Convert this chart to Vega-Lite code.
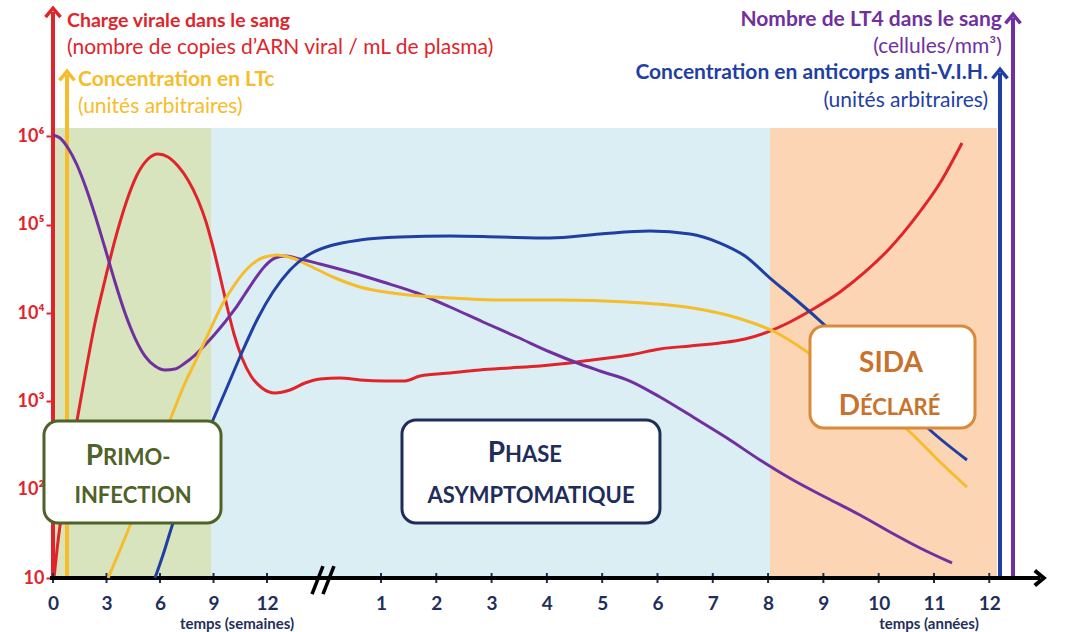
{
  "$schema": "https://vega.github.io/schema/vega-lite/v6.json",
  "width": 960,
  "height": 570,
  "autosize": {"type": "none"},
  "padding": {"left": 53, "top": 8, "right": 70, "bottom": 54},
  "background": "white",
  "config": {"font": "Lato", "view": {"stroke": null}, "axis": {"grid": false}},
  "datasets": {
    "viral": [
      {"t":0.018,"v":10},{"t":0.072,"v":20.7},{"t":0.145,"v":47.8},{"t":0.235,"v":113},{"t":0.344,"v":297},{"t":0.452,"v":702},{"t":0.597,"v":2270},{"t":0.759,"v":7720},{"t":0.940,"v":23700},{"t":1.121,"v":67300},{"t":1.320,"v":176600},{"t":1.519,"v":366000},{"t":1.718,"v":556000},{"t":1.899,"v":634000},{"t":2.080,"v":586000},{"t":2.260,"v":463000},{"t":2.441,"v":322000},{"t":2.622,"v":191000},{"t":2.767,"v":108000},{"t":2.893,"v":56100},{"t":3.020,"v":26300},{"t":3.146,"v":12000},{"t":3.273,"v":5800},{"t":3.418,"v":3100},{"t":3.580,"v":1940},{"t":3.779,"v":1420},{"t":4.014,"v":1245},{"t":4.286,"v":1346},{"t":4.557,"v":1615},{"t":4.828,"v":1794},{"t":5.190,"v":1841},{"t":5.552,"v":1747},{"t":6.004,"v":1702},{"t":6.365,"v":1702},{"t":6.637,"v":1940},{"t":7.179,"v":2099},{"t":7.722,"v":2269},{"t":8.264,"v":2390},{"t":8.807,"v":2518},{"t":9.349,"v":2722},{"t":9.892,"v":3020},{"t":10.434,"v":3352},{"t":10.976,"v":3920},{"t":11.519,"v":4240},{"t":12.061,"v":4585},{"t":12.514,"v":5090},{"t":12.875,"v":5950},{"t":13.327,"v":7930},{"t":13.779,"v":11400},{"t":14.231,"v":17300},{"t":14.684,"v":29200},{"t":15.136,"v":54600},{"t":15.588,"v":119000},{"t":16.040,"v":297000},{"t":16.438,"v":844000}
    ],
    "curves": [
      {"series":"LT4","t":0,"v":1049.6},{"series":"LT4","t":0.127,"v":1042.8},{"series":"LT4","t":0.271,"v":1020.3},{"series":"LT4","t":0.434,"v":982.0},{"series":"LT4","t":0.597,"v":930.1},{"series":"LT4","t":0.759,"v":869.3},{"series":"LT4","t":0.940,"v":794.9},{"series":"LT4","t":1.121,"v":718.3},{"series":"LT4","t":1.302,"v":648.5},{"series":"LT4","t":1.483,"v":592.1},{"series":"LT4","t":1.664,"v":551.5},{"series":"LT4","t":1.844,"v":529.0},{"series":"LT4","t":2.025,"v":520.0},{"series":"LT4","t":2.206,"v":522.3},{"series":"LT4","t":2.387,"v":535.8},{"series":"LT4","t":2.568,"v":553.8},{"series":"LT4","t":2.749,"v":576.3},{"series":"LT4","t":2.929,"v":601.1},{"series":"LT4","t":3.110,"v":628.2},{"series":"LT4","t":3.291,"v":657.5},{"series":"LT4","t":3.472,"v":691.3},{"series":"LT4","t":3.653,"v":725.1},{"series":"LT4","t":3.834,"v":754.4},{"series":"LT4","t":4.014,"v":772.4},{"series":"LT4","t":4.195,"v":776.9},{"series":"LT4","t":4.467,"v":770.1},{"series":"LT4","t":4.828,"v":758.9},{"series":"LT4","t":5.371,"v":740.8},{"series":"LT4","t":5.967,"v":718.3},{"series":"LT4","t":6.582,"v":693.5},{"series":"LT4","t":7.179,"v":662.0},{"series":"LT4","t":7.776,"v":628.2},{"series":"LT4","t":8.391,"v":594.4},{"series":"LT4","t":8.987,"v":560.6},{"series":"LT4","t":9.530,"v":533.5},{"series":"LT4","t":9.892,"v":517.7},{"series":"LT4","t":10.434,"v":495.2},{"series":"LT4","t":10.976,"v":459.2},{"series":"LT4","t":11.573,"v":414.1},{"series":"LT4","t":12.188,"v":366.8},{"series":"LT4","t":12.785,"v":317.2},{"series":"LT4","t":13.382,"v":272.1},{"series":"LT4","t":13.996,"v":231.5},{"series":"LT4","t":14.593,"v":193.2},{"series":"LT4","t":15.136,"v":154.9},{"series":"LT4","t":15.678,"v":118.9},{"series":"LT4","t":16.257,"v":85.1},
      {"series":"LTc","t":0.995,"v":51.3},{"series":"LTc","t":1.212,"v":114.4},{"series":"LTc","t":1.447,"v":186.5},{"series":"LTc","t":1.700,"v":265.4},{"series":"LTc","t":1.935,"v":346.5},{"series":"LTc","t":2.152,"v":418.6},{"series":"LTc","t":2.387,"v":490.7},{"series":"LTc","t":2.604,"v":547.0},{"series":"LTc","t":2.839,"v":610.1},{"series":"LTc","t":3.056,"v":666.5},{"series":"LTc","t":3.291,"v":713.8},{"series":"LTc","t":3.526,"v":749.9},{"series":"LTc","t":3.779,"v":772.4},{"series":"LTc","t":4.051,"v":779.2},{"series":"LTc","t":4.322,"v":772.4},{"series":"LTc","t":4.647,"v":754.4},{"series":"LTc","t":5.063,"v":729.6},{"series":"LTc","t":5.552,"v":707.0},{"series":"LTc","t":6.275,"v":691.3},{"series":"LTc","t":7.179,"v":682.3},{"series":"LTc","t":8.083,"v":677.7},{"series":"LTc","t":9.168,"v":677.7},{"series":"LTc","t":10.380,"v":673.2},{"series":"LTc","t":11.573,"v":659.7},{"series":"LTc","t":12.188,"v":643.9},{"series":"LTc","t":12.658,"v":625.9},{"series":"LTc","t":13.092,"v":603.4},{"series":"LTc","t":13.508,"v":571.8},{"series":"LTc","t":13.960,"v":531.3},{"series":"LTc","t":14.774,"v":452.4},{"series":"LTc","t":15.497,"v":380.3},{"series":"LTc","t":16.040,"v":312.7},{"series":"LTc","t":16.528,"v":256.3},
      {"series":"Ac","t":1.844,"v":51.3},{"series":"Ac","t":1.989,"v":103.1},{"series":"Ac","t":2.170,"v":175.2},{"series":"Ac","t":2.387,"v":249.6},{"series":"Ac","t":2.622,"v":328.5},{"series":"Ac","t":2.893,"v":407.3},{"series":"Ac","t":3.165,"v":486.2},{"series":"Ac","t":3.436,"v":565.1},{"series":"Ac","t":3.707,"v":637.2},{"series":"Ac","t":3.978,"v":695.8},{"series":"Ac","t":4.286,"v":745.4},{"series":"Ac","t":4.647,"v":781.4},{"series":"Ac","t":5.063,"v":801.7},{"series":"Ac","t":5.552,"v":813.0},{"series":"Ac","t":6.275,"v":819.7},{"series":"Ac","t":7.179,"v":822.0},{"series":"Ac","t":8.083,"v":819.7},{"series":"Ac","t":8.987,"v":817.5},{"series":"Ac","t":9.892,"v":826.5},{"series":"Ac","t":10.796,"v":833.2},{"series":"Ac","t":11.519,"v":826.5},{"series":"Ac","t":12.061,"v":806.2},{"series":"Ac","t":12.514,"v":776.9},{"series":"Ac","t":12.966,"v":727.3},{"series":"Ac","t":13.418,"v":680.0},{"series":"Ac","t":13.834,"v":634.9},{"series":"Ac","t":14.322,"v":578.6},{"series":"Ac","t":14.955,"v":502.0},{"series":"Ac","t":15.859,"v":384.8},{"series":"Ac","t":16.528,"v":317.2}
    ],
    "bands": [
      {"phase":"primo","t":0,"t2":2.857,"v":51.3,"v2":1065.4},
      {"phase":"phase","t":2.857,"t2":12.966,"v":51.3,"v2":1065.4},
      {"phase":"sida","t":12.966,"t2":17.071,"v":51.3,"v2":1065.4}
    ],
    "boxes": [
      {"phase":"primo","t":-0.163,"t2":3.038,"v":405.1,"v2":175.2},
      {"phase":"phase","t":6.311,"t2":10.976,"v":407.3,"v2":175.2},
      {"phase":"sida","t":13.689,"t2":16.673,"v":619.2,"v2":389.3}
    ],
    "boxText": [
      {"phase":"primo","txt":"P","part":"initial","t":0.904,"v":305.9},
      {"phase":"primo","txt":"RIMO-","part":"rest","t":0.904,"v":305.9},
      {"phase":"primo","txt":"INFECTION","part":"line","t":1.447,"v":220.3},
      {"phase":"phase","txt":"P","part":"initial","t":8.174,"v":312.4},
      {"phase":"phase","txt":"HASE","part":"rest","t":8.174,"v":312.4},
      {"phase":"phase","txt":"ASYMPTOMATIQUE","part":"line","t":8.644,"v":220.3},
      {"phase":"sida","txt":"SIDA","part":"big","t":15.154,"v":515.5},
      {"phase":"sida","txt":"D","part":"initial","t":14.593,"v":418.6},
      {"phase":"sida","txt":"ÉCLARÉ","part":"rest","t":14.593,"v":418.6}
    ],
    "headers": [
      {"txt":"Charge virale dans le sang","series":"charge","kind":"title","side":"left","t":0.253,"v":1306.5},
      {"txt":"(nombre de copies d’ARN viral / mL de plasma)","series":"charge","kind":"unit","side":"left","t":0.253,"v":1245.6},
      {"txt":"Concentration en LTc","series":"LTc","kind":"title","side":"left","t":0.452,"v":1173.5},
      {"txt":"(unités arbitraires)","series":"LTc","kind":"unit","side":"left","t":0.452,"v":1112.7},
      {"txt":"Nombre de LT4 dans le sang","series":"LT4","kind":"title","side":"right","t":17.16,"v":1308.7},
      {"txt":"(cellules/mm³)","series":"LT4","kind":"unit","side":"right","t":17.16,"v":1247.9},
      {"txt":"Concentration en anticorps anti-V.I.H.","series":"Ac","kind":"title","side":"right","t":16.908,"v":1189.3},
      {"txt":"(unités arbitraires)","series":"Ac","kind":"unit","side":"right","t":16.908,"v":1126.2}
    ],
    "axisTitles": [
      {"txt":"temps (semaines)","t":3.327,"v":-52.4},
      {"txt":"temps (années)","t":15.84,"v":-52.4}
    ],
    "arrows": [
      {"series":"charge","t":0,"v":51.3,"v2":1326.8},
      {"series":"LTc","t":0.253,"v":51.3,"v2":1184.8},
      {"series":"Ac","t":17.125,"v":51.3,"v2":1189.3},
      {"series":"LT4","t":17.36,"v":51.3,"v2":1313.2}
    ],
    "xaxis": [{"t":-0.054,"t2":17.848}],
    "xarrow": [{"t":17.848}],
    "breaks": [
      {"t":4.684,"t2":4.882,"v":15.2,"v2":78.3},
      {"t":4.882,"t2":5.081,"v":15.2,"v2":78.3}
    ],
    "xticks": [
      {"t":0},{"t":0.9675},{"t":1.935},{"t":2.9025},{"t":3.87},
      {"t":5.931},{"t":6.931},{"t":7.931},{"t":8.931},{"t":9.931},{"t":10.931},{"t":11.931},{"t":12.931},{"t":13.931},{"t":14.931},{"t":15.931},{"t":16.931}
    ]
  },
  "encoding": {
    "x": {
      "field": "t", "type": "quantitative",
      "scale": {"domain": [0, 17.36], "nice": false, "zero": false},
      "axis": {
        "values": [0, 0.9675, 1.935, 2.9025, 3.87, 5.931, 6.931, 7.931, 8.931, 9.931, 10.931, 11.931, 12.931, 13.931, 14.931, 15.931, 16.931],
        "labelExpr": "datum.value < 5 ? format(round(datum.value / 0.3225), 'd') : format(round(datum.value - 4.931), 'd')",
        "domain": false, "ticks": false, "grid": false, "title": null,
        "labelPadding": 16, "labelFontSize": 19, "labelFontWeight": "bold", "labelColor": "#1f2f5a",
        "labelFlush": false, "labelOverlap": false
      }
    }
  },
  "layer": [
    {
      "data": {"name": "bands"},
      "mark": {"type": "rect"},
      "encoding": {
        "x2": {"field": "t2"},
        "y": {"field": "v", "type": "quantitative", "scale": {"domain": [51.3, 1335.8], "nice": false, "zero": false}, "axis": null},
        "y2": {"field": "v2"},
        "fill": {"field": "phase", "type": "nominal", "scale": {"domain": ["primo", "phase", "sida"], "range": ["#d7e4bd", "#dbeef4", "#fcd5b5"]}, "legend": null}
      }
    },
    {
      "data": {"name": "viral"},
      "mark": {"type": "line", "color": "#e0242b", "strokeWidth": 3, "interpolate": "monotone"},
      "encoding": {
        "y": {
          "field": "v", "type": "quantitative",
          "scale": {"type": "log", "domain": [10, 28500000], "nice": false},
          "axis": {
            "orient": "left", "values": [10, 100, 1000, 10000, 100000, 1000000],
            "labelExpr": "datum.value < 50 ? '10' : datum.value < 500 ? '10²' : datum.value < 5000 ? '10³' : datum.value < 50000 ? '10⁴' : datum.value < 500000 ? '10⁵' : '10⁶'",
            "domain": false, "tickColor": "#e0242b", "tickWidth": 2, "tickSize": 7,
            "labelColor": "#e0242b", "labelFontSize": 18, "labelFontWeight": "bold", "labelPadding": 2,
            "title": null, "grid": false
          }
        }
      }
    },
    {
      "layer": [
        {
          "data": {"name": "arrows"},
          "mark": {"type": "rule", "strokeWidth": 4},
          "encoding": {
            "y": {"field": "v", "type": "quantitative", "scale": {"domain": [51.3, 1335.8], "nice": false, "zero": false}, "axis": null},
            "y2": {"field": "v2"},
            "color": {"field": "series", "type": "nominal", "scale": {"domain": ["charge", "LT4", "LTc", "Ac", "primo", "phase", "sida"], "range": ["#e0242b", "#7030a0", "#f5bd2b", "#1f3fa3", "#4f6228", "#1f2d5a", "#c8722c"]}, "legend": null}
          }
        },
        {
          "data": {"name": "arrows"},
          "mark": {"type": "point", "shape": "M -1 0.7 L 0 -0.5 L 1 0.7", "size": 225, "strokeWidth": 3.5, "filled": false, "opacity": 1},
          "encoding": {
            "y": {"field": "v2", "type": "quantitative", "scale": {"domain": [51.3, 1335.8], "nice": false, "zero": false}, "axis": null},
            "color": {"field": "series", "type": "nominal", "scale": {"domain": ["charge", "LT4", "LTc", "Ac", "primo", "phase", "sida"], "range": ["#e0242b", "#7030a0", "#f5bd2b", "#1f3fa3", "#4f6228", "#1f2d5a", "#c8722c"]}, "legend": null}
          }
        },
        {
          "data": {"name": "xticks"},
          "mark": {"type": "rule", "strokeWidth": 2, "color": "#1f2f5a"},
          "encoding": {
            "y": {"datum": 40, "type": "quantitative", "scale": {"domain": [51.3, 1335.8], "nice": false, "zero": false}, "axis": null},
            "y2": {"datum": 62.6}
          }
        },
        {
          "data": {"name": "xaxis"},
          "mark": {"type": "rule", "strokeWidth": 4, "color": "#000000"},
          "encoding": {
            "x2": {"field": "t2"},
            "y": {"datum": 51.3, "type": "quantitative", "scale": {"domain": [51.3, 1335.8], "nice": false, "zero": false}, "axis": null}
          }
        },
        {
          "data": {"name": "xarrow"},
          "mark": {"type": "point", "shape": "M -0.7 -1 L 0.5 0 L -0.7 1", "size": 225, "strokeWidth": 4, "filled": false, "opacity": 1, "color": "#000000"},
          "encoding": {
            "y": {"datum": 51.3, "type": "quantitative", "scale": {"domain": [51.3, 1335.8], "nice": false, "zero": false}, "axis": null}
          }
        },
        {
          "data": {"name": "breaks"},
          "mark": {"type": "rule", "strokeWidth": 3.5, "color": "#000000"},
          "encoding": {
            "x2": {"field": "t2"},
            "y": {"field": "v", "type": "quantitative", "scale": {"domain": [51.3, 1335.8], "nice": false, "zero": false}, "axis": null},
            "y2": {"field": "v2"}
          }
        },
        {
          "data": {"name": "curves"},
          "mark": {"type": "line", "strokeWidth": 3, "interpolate": "monotone"},
          "encoding": {
            "y": {
              "field": "v", "type": "quantitative",
              "scale": {"domain": [51.3, 1335.8], "nice": false, "zero": false},
              "axis": {
                "orient": "right", "values": [200, 400, 600, 800, 1000],
                "labelExpr": "datum.value == 1000 ? '1 000' : datum.label",
                "domain": false, "tickColor": "#7030a0", "tickWidth": 2, "tickSize": 7,
                "labelColor": "#7030a0", "labelFontSize": 18, "labelFontWeight": "bold", "labelPadding": 4,
                "title": null, "grid": false
              }
            },
            "color": {"field": "series", "type": "nominal", "scale": {"domain": ["charge", "LT4", "LTc", "Ac", "primo", "phase", "sida"], "range": ["#e0242b", "#7030a0", "#f5bd2b", "#1f3fa3", "#4f6228", "#1f2d5a", "#c8722c"]}, "legend": null}
          }
        },
        {
          "data": {"name": "boxes"},
          "mark": {"type": "rect", "fill": "#ffffff", "strokeWidth": 3, "cornerRadius": 14},
          "encoding": {
            "x2": {"field": "t2"},
            "y": {"field": "v", "type": "quantitative", "scale": {"domain": [51.3, 1335.8], "nice": false, "zero": false}, "axis": null},
            "y2": {"field": "v2"},
            "stroke": {"field": "phase", "type": "nominal", "scale": {"domain": ["primo", "phase", "sida"], "range": ["#4f6228", "#1f2d5a", "#d98a3a"]}, "legend": null}
          }
        },
        {
          "data": {"name": "boxText"},
          "transform": [{"filter": "datum.part == 'initial'"}],
          "mark": {"type": "text", "align": "right", "baseline": "alphabetic", "fontSize": 28, "fontWeight": "bold"},
          "encoding": {
            "y": {"field": "v", "type": "quantitative", "scale": {"domain": [51.3, 1335.8], "nice": false, "zero": false}, "axis": null},
            "text": {"field": "txt"},
            "color": {"field": "phase", "type": "nominal", "scale": {"domain": ["charge", "LT4", "LTc", "Ac", "primo", "phase", "sida"], "range": ["#e0242b", "#7030a0", "#f5bd2b", "#1f3fa3", "#4f6228", "#1f2d5a", "#c8722c"]}, "legend": null}
          }
        },
        {
          "data": {"name": "boxText"},
          "transform": [{"filter": "datum.part == 'rest'"}],
          "mark": {"type": "text", "align": "left", "baseline": "alphabetic", "fontSize": 22, "fontWeight": "bold"},
          "encoding": {
            "y": {"field": "v", "type": "quantitative", "scale": {"domain": [51.3, 1335.8], "nice": false, "zero": false}, "axis": null},
            "text": {"field": "txt"},
            "color": {"field": "phase", "type": "nominal", "scale": {"domain": ["charge", "LT4", "LTc", "Ac", "primo", "phase", "sida"], "range": ["#e0242b", "#7030a0", "#f5bd2b", "#1f3fa3", "#4f6228", "#1f2d5a", "#c8722c"]}, "legend": null}
          }
        },
        {
          "data": {"name": "boxText"},
          "transform": [{"filter": "datum.part == 'line'"}],
          "mark": {"type": "text", "align": "center", "baseline": "alphabetic", "fontSize": 22, "fontWeight": "bold"},
          "encoding": {
            "y": {"field": "v", "type": "quantitative", "scale": {"domain": [51.3, 1335.8], "nice": false, "zero": false}, "axis": null},
            "text": {"field": "txt"},
            "color": {"field": "phase", "type": "nominal", "scale": {"domain": ["charge", "LT4", "LTc", "Ac", "primo", "phase", "sida"], "range": ["#e0242b", "#7030a0", "#f5bd2b", "#1f3fa3", "#4f6228", "#1f2d5a", "#c8722c"]}, "legend": null}
          }
        },
        {
          "data": {"name": "boxText"},
          "transform": [{"filter": "datum.part == 'big'"}],
          "mark": {"type": "text", "align": "center", "baseline": "alphabetic", "fontSize": 28, "fontWeight": "bold"},
          "encoding": {
            "y": {"field": "v", "type": "quantitative", "scale": {"domain": [51.3, 1335.8], "nice": false, "zero": false}, "axis": null},
            "text": {"field": "txt"},
            "color": {"field": "phase", "type": "nominal", "scale": {"domain": ["charge", "LT4", "LTc", "Ac", "primo", "phase", "sida"], "range": ["#e0242b", "#7030a0", "#f5bd2b", "#1f3fa3", "#4f6228", "#1f2d5a", "#c8722c"]}, "legend": null}
          }
        },
        {
          "data": {"name": "headers"},
          "transform": [{"filter": "datum.series == 'charge' && datum.kind == 'title'"}],
          "mark": {"type": "text", "align": "left", "baseline": "middle", "fontSize": 19.5, "fontWeight": "bold"},
          "encoding": {
            "y": {"field": "v", "type": "quantitative", "scale": {"domain": [51.3, 1335.8], "nice": false, "zero": false}, "axis": null},
            "text": {"field": "txt"},
            "color": {"field": "series", "type": "nominal", "scale": {"domain": ["charge", "LT4", "LTc", "Ac", "primo", "phase", "sida"], "range": ["#e0242b", "#7030a0", "#f5bd2b", "#1f3fa3", "#4f6228", "#1f2d5a", "#c8722c"]}, "legend": null}
          }
        },
        {
          "data": {"name": "headers"},
          "transform": [{"filter": "datum.side == 'left' && datum.kind == 'title' && datum.series != 'charge'"}],
          "mark": {"type": "text", "align": "left", "baseline": "middle", "fontSize": 21, "fontWeight": "bold"},
          "encoding": {
            "y": {"field": "v", "type": "quantitative", "scale": {"domain": [51.3, 1335.8], "nice": false, "zero": false}, "axis": null},
            "text": {"field": "txt"},
            "color": {"field": "series", "type": "nominal", "scale": {"domain": ["charge", "LT4", "LTc", "Ac", "primo", "phase", "sida"], "range": ["#e0242b", "#7030a0", "#f5bd2b", "#1f3fa3", "#4f6228", "#1f2d5a", "#c8722c"]}, "legend": null}
          }
        },
        {
          "data": {"name": "headers"},
          "transform": [{"filter": "datum.side == 'left' && datum.kind == 'unit'"}],
          "mark": {"type": "text", "align": "left", "baseline": "middle", "fontSize": 21, "fontWeight": "normal"},
          "encoding": {
            "y": {"field": "v", "type": "quantitative", "scale": {"domain": [51.3, 1335.8], "nice": false, "zero": false}, "axis": null},
            "text": {"field": "txt"},
            "color": {"field": "series", "type": "nominal", "scale": {"domain": ["charge", "LT4", "LTc", "Ac", "primo", "phase", "sida"], "range": ["#e0242b", "#7030a0", "#f5bd2b", "#1f3fa3", "#4f6228", "#1f2d5a", "#c8722c"]}, "legend": null}
          }
        },
        {
          "data": {"name": "headers"},
          "transform": [{"filter": "datum.side == 'right' && datum.kind == 'title'"}],
          "mark": {"type": "text", "align": "right", "baseline": "middle", "fontSize": 21, "fontWeight": "bold"},
          "encoding": {
            "y": {"field": "v", "type": "quantitative", "scale": {"domain": [51.3, 1335.8], "nice": false, "zero": false}, "axis": null},
            "text": {"field": "txt"},
            "color": {"field": "series", "type": "nominal", "scale": {"domain": ["charge", "LT4", "LTc", "Ac", "primo", "phase", "sida"], "range": ["#e0242b", "#7030a0", "#f5bd2b", "#1f3fa3", "#4f6228", "#1f2d5a", "#c8722c"]}, "legend": null}
          }
        },
        {
          "data": {"name": "headers"},
          "transform": [{"filter": "datum.side == 'right' && datum.kind == 'unit'"}],
          "mark": {"type": "text", "align": "right", "baseline": "middle", "fontSize": 21, "fontWeight": "normal"},
          "encoding": {
            "y": {"field": "v", "type": "quantitative", "scale": {"domain": [51.3, 1335.8], "nice": false, "zero": false}, "axis": null},
            "text": {"field": "txt"},
            "color": {"field": "series", "type": "nominal", "scale": {"domain": ["charge", "LT4", "LTc", "Ac", "primo", "phase", "sida"], "range": ["#e0242b", "#7030a0", "#f5bd2b", "#1f3fa3", "#4f6228", "#1f2d5a", "#c8722c"]}, "legend": null}
          }
        },
        {
          "data": {"name": "axisTitles"},
          "mark": {"type": "text", "align": "center", "baseline": "middle", "fontSize": 15, "fontWeight": "bold", "color": "#1f2f5a"},
          "encoding": {
            "y": {"field": "v", "type": "quantitative", "scale": {"domain": [51.3, 1335.8], "nice": false, "zero": false}, "axis": null},
            "text": {"field": "txt"}
          }
        }
      ]
    }
  ],
  "resolve": {"scale": {"y": "independent"}}
}
